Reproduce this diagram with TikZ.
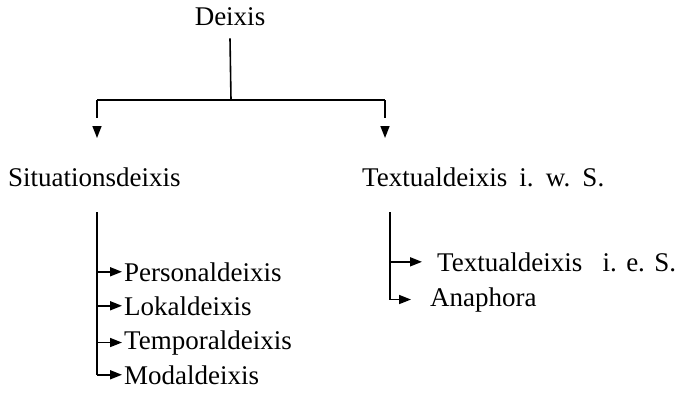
\documentclass[tikz,border=0pt]{standalone}
\usepackage{fontspec}
\setmainfont{Liberation Serif}
\usetikzlibrary{arrows.meta}
\begin{document}
\begin{tikzpicture}[x=1pt,y=-1pt,
  lbl/.style={inner sep=0pt, anchor=base west, font=\fontsize{27}{32}\selectfont},
  ln/.style={line width=1.6pt},
  arr/.style={ln,-{Triangle[length=12pt,width=9pt]}},
  gaparr/.style={arr, dash pattern=on 18pt off 8pt on 12pt}]
\useasboundingbox (0,0) rectangle (682,410);
% labels
\node[lbl, anchor=base] (deixis) at (230,25) {Deixis};
\node[lbl] (sit) at (8,186) {Situationsdeixis};
\node[lbl] (txw) at (362,186) {Textualdeixis\hspace{0.45em}i.\hspace{0.45em}w.\hspace{0.45em}S.};
\node[lbl] (per) at (124,281) {Personaldeixis};
\node[lbl] (lok) at (124,315) {Lokaldeixis};
\node[lbl] (tem) at (124,349) {Temporaldeixis};
\node[lbl] (mod) at (124,384) {Modaldeixis};
\node[lbl] (txe) at (437,271) {Textualdeixis\hspace{0.75em}i.\hspace{0.35em}e.\hspace{0.35em}S.};
\node[lbl] (ana) at (430,306) {Anaphora};
% junctions
\coordinate (jc) at (231,100);
\coordinate (jl) at (97,100);
\coordinate (jr) at (385,100);
\coordinate (al) at (97,138);
\coordinate (ar) at (385,138);
\coordinate (sl) at (97,212);
\coordinate (tl) at (390,212);
% top tree
\draw[ln] (deixis.south) ++(0,13) -- (jc);
\draw[ln] (jl) -- (jr);
\draw[gaparr] (jl) -- (al);
\draw[gaparr] (jr) -- (ar);
% left subtree
\draw[ln] (sl) -- (sl |- mod.west);
\draw[arr, shorten >=2pt] (sl |- per.west) -- (per.west);
\draw[arr, shorten >=2pt] (sl |- lok.west) -- (lok.west);
\draw[arr, shorten >=2pt] (sl |- tem.west) -- (tem.west);
\draw[arr, shorten >=2pt] (sl |- mod.west) -- (mod.west);
% right subtree
\draw[ln] (tl) -- (tl |- ana.west);
\draw[arr, shorten >=15pt] (tl |- txe.west) -- (txe.west);
\draw[arr, shorten >=19pt] (tl |- ana.west) -- (ana.west);
\end{tikzpicture}
\end{document}
